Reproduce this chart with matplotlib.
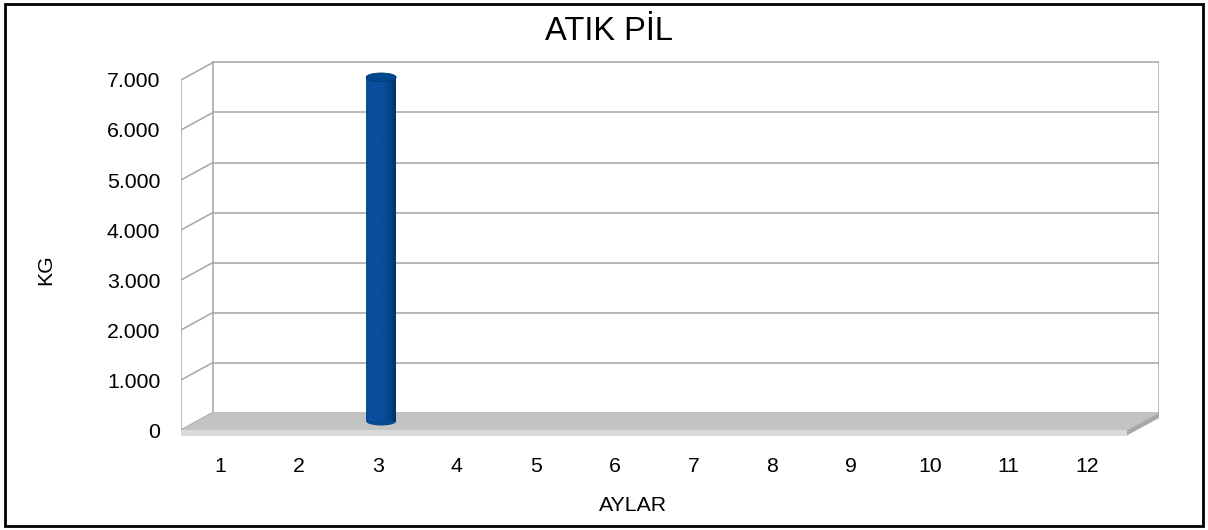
import numpy as np
import matplotlib
matplotlib.use('Agg')
import matplotlib.pyplot as plt
from matplotlib.patches import Polygon, Ellipse, Rectangle
from matplotlib.colors import LinearSegmentedColormap

plt.rcParams['font.family'] = ['Liberation Sans', 'DejaVu Sans']

# Datos
aylar = [1, 2, 3, 4, 5, 6, 7, 8, 9, 10, 11, 12]
kg = [0, 0, 6880, 0, 0, 0, 0, 0, 0, 0, 0, 0]
y_ticks = [0, 1000, 2000, 3000, 4000, 5000, 6000, 7000]
y_labels = ['0', '1.000', '2.000', '3.000', '4.000', '5.000', '6.000', '7.000']
title = 'ATIK PİL'

# Efecto 3D (profundidad en unidades de datos)
dx = 0.406
dy = 350
floor_h = 110
ymax = 7000

fig = plt.figure(figsize=(12.08, 5.30), dpi=100)
ax = fig.add_axes([0.1498, 0.1745, 0.8096, 0.7123])
x0, x1 = 0.5, 12.5
for s in ax.spines.values():
    s.set_visible(False)

grid_c = '#a6a6a6'
# pared trasera y lateral
for v in y_ticks:
    ax.plot([x0 + dx, x1 + dx], [v + dy, v + dy], color=grid_c, lw=1.1, zorder=1)
    ax.plot([x0, x0 + dx], [v, v + dy], color=grid_c, lw=1.1, zorder=1)
ax.plot([x0 + dx, x0 + dx], [dy, ymax + dy], color=grid_c, lw=1.1, zorder=1)
ax.plot([x1 + dx, x1 + dx], [dy, ymax + dy], color=grid_c, lw=1.1, zorder=1)
ax.plot([x0, x0], [0, ymax], color=grid_c, lw=1.1, zorder=1)

# suelo
ax.add_patch(Polygon([[x0, 0], [x1, 0], [x1 + dx, dy], [x0 + dx, dy]],
                     closed=True, fc='#c3c3c3', ec='none', zorder=2))
ax.add_patch(Polygon([[x0, 0], [x1, 0], [x1, -floor_h], [x0, -floor_h]],
                     closed=True, fc='#d9d9d9', ec='none', zorder=2))
ax.add_patch(Polygon([[x1, 0], [x1 + dx, dy], [x1 + dx, dy - floor_h], [x1, -floor_h]],
                     closed=True, fc='#a8a8a8', ec='none', zorder=2))

# cilindros
cmap = LinearSegmentedColormap.from_list(
    'cyl', ['#0b4c98', '#0b50a0', '#0a4f9e', '#0a4c98', '#064389', '#003366'])
grad = np.linspace(0, 1, 64).reshape(1, -1)
w = 0.38
base = dy * 0.5
ell_h = 170
for m, v in zip(aylar, kg):
    if v <= 0:
        continue
    xc = m + 0.04
    ax.add_patch(Ellipse((xc, base), w, ell_h, fc='#0a4a94', ec='none', zorder=3))
    ax.imshow(grad, cmap=cmap, extent=[xc - w / 2, xc + w / 2, base, base + v],
              aspect='auto', zorder=4, interpolation='bilinear')
    ax.add_patch(Ellipse((xc, base + v), w, ell_h, fc='#00478d', ec='#003a78', lw=0.6, zorder=5))

ax.set_xlim(x0, x1 + dx)
ax.set_ylim(-150, ymax + 400)

ax.set_yticks(y_ticks)
ax.set_yticklabels(y_labels)
ax.set_xticks(aylar)
ax.set_xticklabels([str(a) for a in aylar])
ax.tick_params(axis='y', length=0, pad=15, labelsize=15.3)
ax.tick_params(axis='x', length=0, pad=14, labelsize=15.3)

ax.set_ylabel('KG', fontsize=15.3)
ax.yaxis.set_label_coords(-0.138, 0.444)
ax.set_xlabel('AYLAR', fontsize=15.3)
ax.xaxis.set_label_coords(0.462, -0.179)
ax.xaxis.label.set_va('center')
ax.yaxis.label.set_va('center')

fig.text(0.504, 0.9415, title, ha='center', va='center', fontsize=23.5)

fig.patches.append(Rectangle((5 / 1208, 4 / 530), 1198 / 1208, 522 / 530,
                             transform=fig.transFigure, fill=False, ec='black', lw=2))

fig.savefig('out.png', dpi=100)
